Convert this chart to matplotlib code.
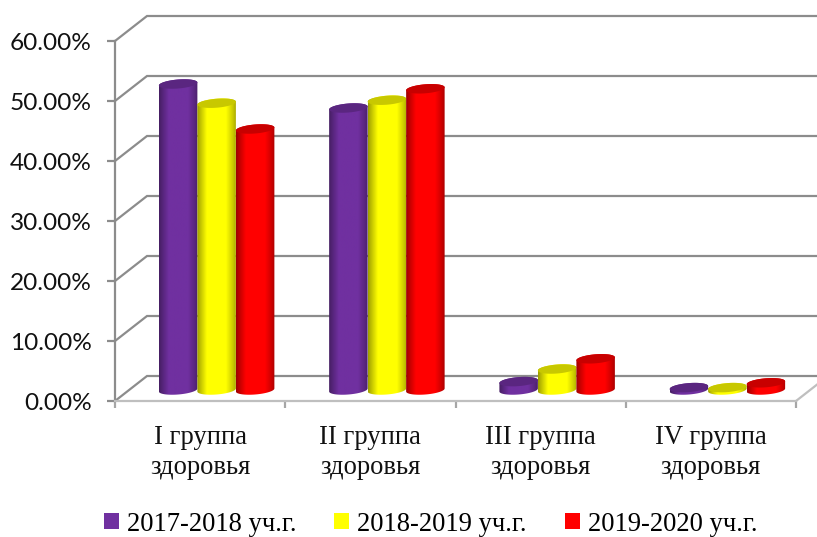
import matplotlib
matplotlib.use('Agg')
import matplotlib.pyplot as plt
from matplotlib.colors import to_rgb
from matplotlib.patches import Patch, Polygon
import numpy as np

categories = ['I группа\nздоровья', 'II группа\nздоровья', 'III группа\nздоровья', 'IV группа\nздоровья']
series_names = ['2017-2018 уч.г.', '2018-2019 уч.г.', '2019-2020 уч.г.']
values_2017 = [51.0, 47.0, 1.4, 0.4]
values_2018 = [47.8, 48.3, 3.5, 0.4]
values_2019 = [43.5, 50.2, 5.2, 1.2]
colors = ['#7030A0', '#FFFF00', '#FF0000']
top_colors = ['#5A2680', '#C8C800', '#C80000']
y_ticks = [0, 10, 20, 30, 40, 50, 60]
grid_color = '#8C8C8C'

fig = plt.figure(figsize=(8.17, 5.37), dpi=100)
# front plane of the fake 3d box
ax = fig.add_axes([115 / 817, (537 - 401) / 537, 681 / 817, 360 / 537])
ax.set_xlim(0, 4)
ax.set_ylim(0, 60)

dx = 32 / (681 / 4)  # depth of box in data units
dy = 25 / 6
bar_w = 38.5 / (681 / 4)
shift = 16.5 / (681 / 4)
base = 11 / 6
ell_a = bar_w / 2
ell_b = 4.5 / 6
ell_k = 1.5 / 6

# walls
for v in y_ticks:
    ax.plot([0, dx, 4 + 2 * dx], [v, v + dy, v + dy], color=grid_color, lw=1.6,
            clip_on=False, zorder=1, solid_joinstyle='miter')
ax.plot([4, 4 + dx], [0, dy], color='#BFBFBF', lw=1.6, clip_on=False, zorder=1)

t = np.linspace(0, 2 * np.pi, 80)


def ellipse(cx, cy):
    return cx + ell_a * np.cos(t), cy + ell_b * np.sin(t) + ell_k * np.cos(t)


def cylinder(cx, val, col, top):
    y0 = base
    y1 = base + val
    ex, ey = ellipse(cx, y0)
    tx, ty = ellipse(cx, y1)
    lower = t >= np.pi
    upper = t <= np.pi
    xs = np.concatenate([ex[lower], tx[upper]])
    ys = np.concatenate([ey[lower], ty[upper]])
    outline = Polygon(np.column_stack([xs, ys]), closed=True, transform=ax.transData,
                      fc='none', ec='none')
    ax.add_patch(outline)
    outline.set_clip_on(False)
    # horizontal shading of the side
    s = np.linspace(0, 1, 64)
    k = np.interp(s, [0, 0.08, 0.25, 0.75, 0.92, 1], [0.62, 0.75, 1, 1, 0.8, 0.68])
    grad = np.outer(k, np.array(to_rgb(col)))[np.newaxis, :, :]
    im = ax.imshow(grad, extent=[cx - ell_a, cx + ell_a, y0 - 2, y1 + 2], aspect='auto',
                   interpolation='bilinear', zorder=3, origin='lower')
    im.set_clip_path(outline)
    ax.fill(tx, ty, color=top, lw=0, zorder=3, clip_on=False)


rows = [values_2017, values_2018, values_2019]
for i in range(len(categories)):
    for j in range(3):
        cx = i + 0.5 + shift + (j - 1) * bar_w
        cylinder(cx, rows[j][i], colors[j], top_colors[j])

ax.set_xlim(0, 4)
ax.set_ylim(0, 60)
ax.patch.set_visible(False)

for name in ['top', 'right']:
    ax.spines[name].set_visible(False)
for name in ['left', 'bottom']:
    ax.spines[name].set_color(grid_color)
    ax.spines[name].set_linewidth(1.6)
ax.spines['bottom'].set_color('#BFBFBF')

ax.set_yticks(y_ticks)
ax.set_yticklabels(['%.2f%%' % v for v in y_ticks], family='Lato', fontsize=17.6, color='#111111')
ax.tick_params(axis='y', length=5.8, width=1.6, color=grid_color, pad=11)
ax.set_xticks(range(5))
ax.set_xticklabels([])
ax.tick_params(axis='x', which='major', length=5, width=1.6, color='#A6A6A6')
ax.set_xticks(np.arange(4) + 0.5, minor=True)
ax.set_xticklabels(categories, minor=True, family='Liberation Serif', fontsize=19.2,
                   linespacing=1.27, color='#111111')
ax.tick_params(axis='x', which='minor', length=0, pad=17)

handles = [Patch(fc=c, ec='none') for c in colors]
fig.legend(handles, series_names, loc='lower center', ncol=3, frameon=False,
           bbox_to_anchor=(0.527, -0.044),
           prop={'family': 'Liberation Serif', 'size': 19.2}, handlelength=0.56, handleheight=0.56,
           handletextpad=0.3, columnspacing=1.42)

fig.savefig('out.png', dpi=100)
